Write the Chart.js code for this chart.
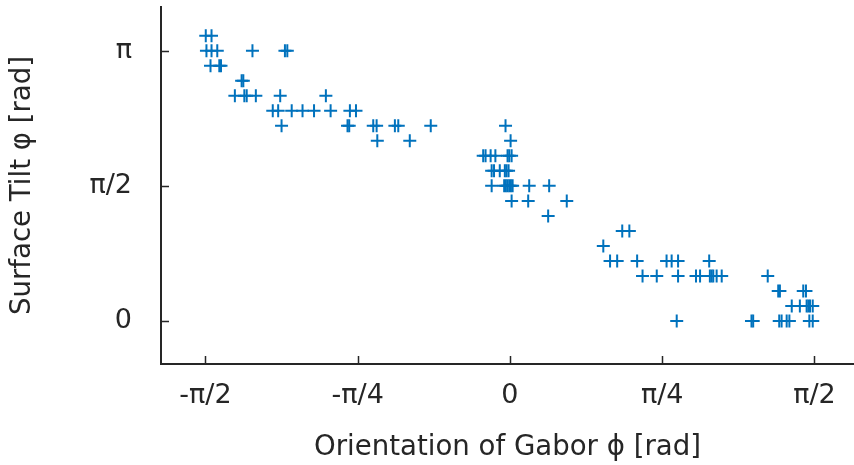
<!DOCTYPE html>
<html>
<head>
<meta charset="utf-8">
<script src="https://cdn.jsdelivr.net/npm/chart.js@4/dist/chart.umd.min.js"></script>
<style>
html,body{margin:0;padding:0;background:#ffffff;}
#wrap{width:854px;height:465px;}
</style>
</head>
<body>
<div id="wrap"><canvas id="c" width="854" height="465"></canvas></div>
<script>
// Orientation of Gabor (degrees), paired with surface tilt (degrees)
const orientationDeg = [
  -89.9, -88.2,                                              // tilt 190
  -89.7, -88.2, -86.5, -76.1, -66.5, -65.8,                  // tilt 180
  -88.5, -85.9, -85.4,                                       // tilt 170
  -79.3, -78.8,                                              // tilt 160
  -81.3, -78.5, -77.8, -75.1, -67.9, -54.4,                  // tilt 150
  -70.1, -68.5, -64.5, -61.3, -57.9, -53.0, -47.3, -45.5,    // tilt 140
  -67.5, -48.0, -47.5, -40.4, -39.4, -34.0, -33.0, -23.4, -1.3, // tilt 130
  -39.2, -29.6, 0.2,                                         // tilt 120
  -7.9, -7.2, -5.7, -4.3, -0.7, -0.2, 0.5,                   // tilt 110
  -5.4, -4.7, -3.0, -1.5, -1.0, -0.4,                        // tilt 100
  -5.4, -1.7, -1.2, -0.7, -0.2, 0.3, 0.8, 5.7, 11.6,         // tilt 90
  0.5, 5.4, 16.8,                                            // tilt 80
  11.3,                                                      // tilt 70
  33.2, 35.3,                                                // tilt 60
  27.6,                                                      // tilt 50
  29.6, 31.7, 37.6, 46.3, 47.8, 49.7, 58.9,                  // tilt 40
  39.2, 43.4, 49.7, 55.0, 56.2, 59.1, 59.6, 60.1, 61.1, 62.6, 76.2, // tilt 30
  79.3, 79.8, 86.7, 87.5,                                    // tilt 20
  83.3, 85.7, 87.7, 88.2, 88.7, 89.5,                        // tilt 10
  49.3, 71.4, 71.9, 79.6, 80.3, 81.8, 82.6, 88.5, 89.5       // tilt 0
];
const tiltDeg = [
  190, 190,
  180, 180, 180, 180, 180, 180,
  170, 170, 170,
  160, 160,
  150, 150, 150, 150, 150, 150,
  140, 140, 140, 140, 140, 140, 140, 140,
  130, 130, 130, 130, 130, 130, 130, 130, 130,
  120, 120, 120,
  110, 110, 110, 110, 110, 110, 110,
  100, 100, 100, 100, 100, 100,
  90, 90, 90, 90, 90, 90, 90, 90, 90,
  80, 80, 80,
  70,
  60, 60,
  50,
  40, 40, 40, 40, 40, 40, 40,
  30, 30, 30, 30, 30, 30, 30, 30, 30, 30, 30,
  20, 20, 20, 20,
  10, 10, 10, 10, 10, 10,
  0, 0, 0, 0, 0, 0, 0, 0, 0
];
const xTickValues = [-Math.PI/2, -Math.PI/4, 0, Math.PI/4, Math.PI/2];
const xTickLabels = ['-π/2', '-π/4', '0', 'π/4', 'π/2'];
const yTickValues = [0, Math.PI/2, Math.PI];
const yTickLabels = ['0', 'π/2', 'π'];

const DEG = Math.PI / 180;
const points = orientationDeg.map((d, i) => ({ x: d * DEG, y: tiltDeg[i] * DEG }));

const INK = '#262626';
const FONT = 'DejaVu Sans';

const innerTicks = {
  id: 'innerTicks',
  afterDraw(chart) {
    const ctx = chart.ctx;
    const xs = chart.scales.x, ys = chart.scales.y;
    const area = chart.chartArea;
    ctx.save();
    ctx.strokeStyle = INK;
    ctx.lineWidth = 1.5;
    ctx.beginPath();
    xTickValues.forEach(v => {
      const px = Math.round(xs.getPixelForValue(v)) + 0.5;
      ctx.moveTo(px, area.bottom);
      ctx.lineTo(px, area.bottom - 8);
    });
    yTickValues.forEach(v => {
      const py = Math.round(ys.getPixelForValue(v)) + 0.5;
      ctx.moveTo(area.left, py);
      ctx.lineTo(area.left + 8, py);
    });
    ctx.stroke();
    ctx.restore();
  }
};

new Chart(document.getElementById('c'), {
  type: 'scatter',
  data: {
    datasets: [{
      data: points,
      pointStyle: 'cross',
      pointRadius: 6.5,
      pointHoverRadius: 6.5,
      borderWidth: 2,
      borderColor: '#0072BD',
      backgroundColor: '#0072BD',
      clip: false
    }]
  },
  options: {
    responsive: false,
    animation: false,
    devicePixelRatio: 1,
    layout: { autoPadding: false, padding: { top: 7, right: 0, left: 0, bottom: 0 } },
    plugins: { legend: { display: false }, tooltip: { enabled: false } },
    events: [],
    scales: {
      x: {
        type: 'linear',
        min: -1.8,
        max: 1.775,
        afterBuildTicks: s => { s.ticks = xTickValues.map(v => ({ value: v })); },
        afterFit: s => { s.height = 101; s.paddingLeft = 0; s.paddingRight = 0; },
        ticks: {
          callback: (v, i) => xTickLabels[i],
          font: { family: FONT, size: 27 },
          color: INK,
          padding: 16,
          maxRotation: 0,
          autoSkip: false
        },
        grid: { display: false, drawTicks: false },
        border: { display: true, color: INK, width: 2 },
        title: {
          display: true,
          text: 'Orientation of Gabor ϕ [rad]',
          font: { family: FONT, size: 27.6 },
          color: INK,
          padding: { top: 0, bottom: 1 }
        }
      },
      y: {
        type: 'linear',
        min: -0.5,
        max: 3.65,
        afterBuildTicks: s => { s.ticks = yTickValues.map(v => ({ value: v })); },
        afterFit: s => { s.width = 161; s.paddingTop = 0; s.paddingBottom = 0; },
        ticks: {
          callback: (v, i) => yTickLabels[i],
          font: { family: FONT, size: 27 },
          color: INK,
          padding: 29,
          autoSkip: false
        },
        grid: { display: false, drawTicks: false },
        border: { display: true, color: INK, width: 2 },
        title: {
          display: true,
          text: 'Surface Tilt φ [rad]',
          font: { family: FONT, size: 27.6 },
          color: INK,
          padding: { top: 6, bottom: 0 }
        }
      }
    }
  },
  plugins: [innerTicks]
});
</script>
</body>
</html>
